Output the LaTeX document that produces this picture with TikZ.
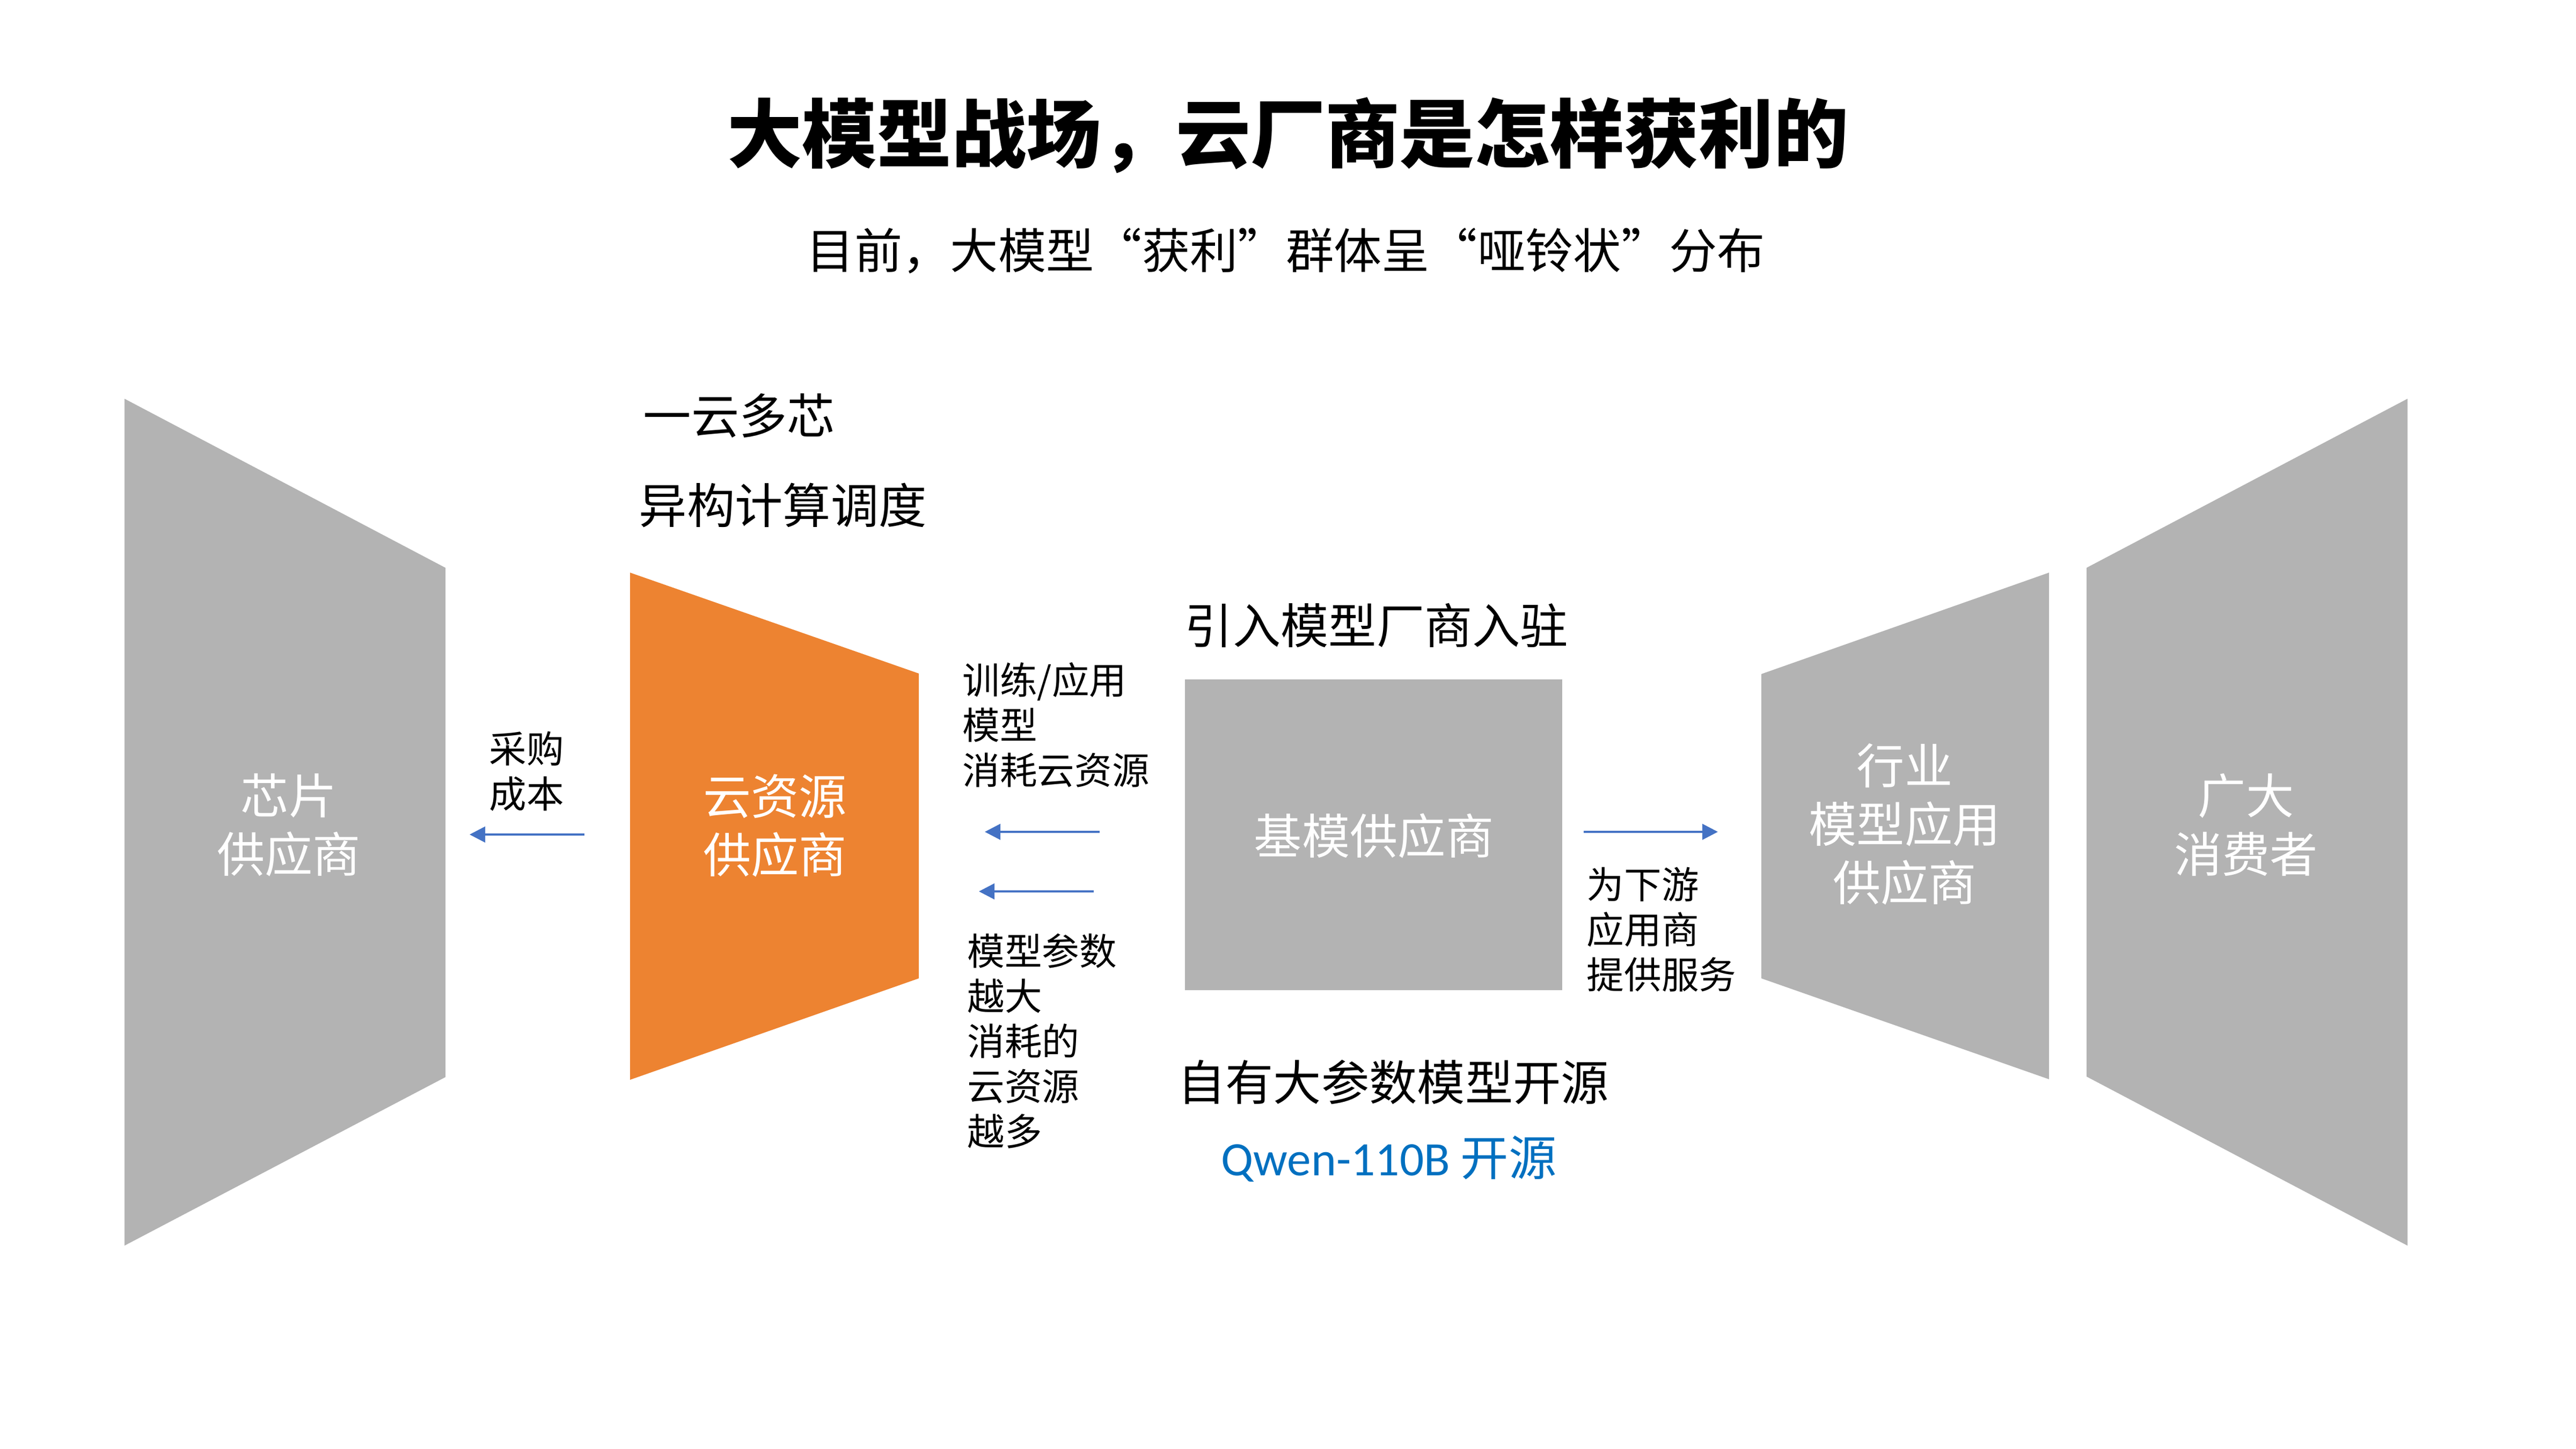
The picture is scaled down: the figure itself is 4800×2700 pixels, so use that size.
\documentclass[tikz,border=0pt]{standalone}
\usepackage{fontspec}
\setmainfont{Noto Sans CJK SC}
\newfontfamily\latinfont{Carlito}
\usetikzlibrary{arrows.meta}
\definecolor{shapegray}{HTML}{B3B3B3}
\definecolor{cloudorange}{HTML}{ED8331}
\definecolor{arrowblue}{HTML}{4472C4}
\definecolor{qwenblue}{HTML}{0070C0}
\tikzset{
  big/.style={font=\fontsize{25.4pt}{31pt}\selectfont},
  small/.style={font=\fontsize{19.8pt}{23.9pt}\selectfont},
  inlabel/.style={big, text=white, align=center, inner sep=0pt},
  note/.style={small, align=left, inner sep=0pt, anchor=west},
  flow/.style={draw=arrowblue, line width=1.15pt, -{Triangle[length=0.29cm,width=0.29cm]}},
}
\begin{document}
\begin{tikzpicture}[x=0.01cm,y=-0.01cm]
\useasboundingbox (0,0) rectangle (4800,2700);
\fill[white] (0,0) rectangle (4800,2700);

% title
\node[font=\fontsize{39.6pt}{48pt}\selectfont\bfseries, inner sep=0pt] (title) at (2400,252) {大模型战场，云厂商是怎样获利的};
\node[big, inner sep=0pt] (subtitle) at (2396,467) {目前，大模型“获利”群体呈“哑铃状”分布};

% shapes
\fill[shapegray] (232,743) -- (830,1058) -- (830,2007) -- (232,2321) -- cycle;
\fill[cloudorange] (1174,1067) -- (1712,1255) -- (1712,1823) -- (1174,2012) -- cycle;
\fill[shapegray] (2208,1266) rectangle (2911,1845);
\fill[shapegray] (3282,1256) -- (3818,1067) -- (3818,2011) -- (3282,1823) -- cycle;
\fill[shapegray] (3888,1058) -- (4486,743) -- (4486,2321) -- (3888,2006) -- cycle;

% labels in shapes
\node[inlabel] (chip) at (538,1537) {芯片\\供应商};
\node[inlabel] (cloud) at (1444,1539) {云资源\\供应商};
\node[inlabel] (base) at (2560,1557) {基模供应商};
\node[inlabel] (industry) at (3549,1536) {行业\\模型应用\\供应商};
\node[inlabel] (consumer) at (4185,1537) {广大\\消费者};

% top / bottom texts
\node[big, anchor=west, inner sep=0pt] (onecloud) at (1198,775) {一云多芯};
\node[big, anchor=west, inner sep=0pt] (hetero) at (1190,941) {异构计算调度};
\node[big, inner sep=0pt] (intro) at (2565,1165) {引入模型厂商入驻};
\node[big, inner sep=0pt] (opensrc) at (2596,2016) {自有大参数模型开源};
\node[big, inner sep=0pt, text=qwenblue] (qwen) at (2588,2159) {{\latinfont Qwen-110B }开源};

% notes
\node[small, align=center, inner sep=0pt] (cost) at (981,1437) {采购\\成本};
\node[note] (train) at (1793,1351) {训练/应用\\模型\\消耗云资源};
\node[note] (param) at (1802,1940) {模型参数\\越大\\消耗的\\云资源\\越多};
\node[note] (serve) at (2956,1732) {为下游\\应用商\\提供服务};

% arrows
\coordinate (a1s) at (1089,1555);
\coordinate (a1e) at (875,1555);
\coordinate (a2s) at (2049,1550);
\coordinate (a2e) at (1835,1550);
\coordinate (a3s) at (2038,1661);
\coordinate (a3e) at (1824,1661);
\coordinate (a4s) at (2951,1550);
\coordinate (a4e) at (3201,1550);
\draw[flow] (a1s) -- (a1e);
\draw[flow] (a2s) -- (a2e);
\draw[flow] (a3s) -- (a3e);
\draw[flow] (a4s) -- (a4e);
\end{tikzpicture}
\end{document}
